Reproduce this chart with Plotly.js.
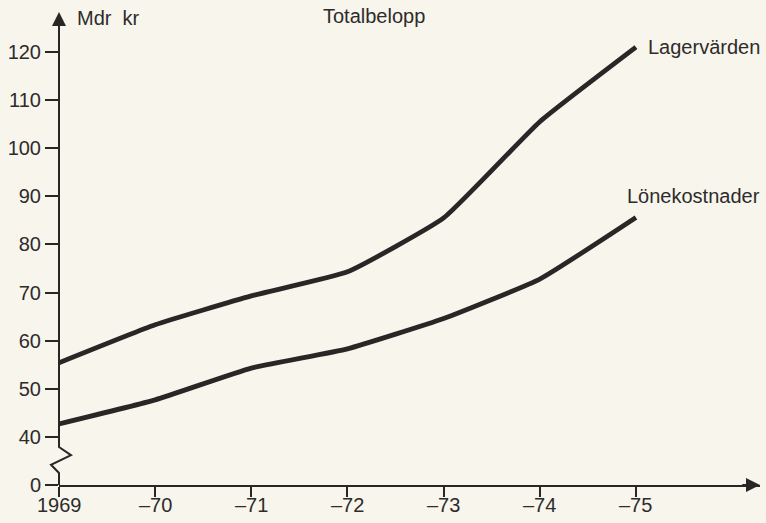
<!DOCTYPE html>
<html>
<head>
<meta charset="utf-8">
<script src="https://cdn.plot.ly/plotly-3.0.1.min.js"></script>
<style>
html,body{margin:0;padding:0;background:#f7f5ec;}
#chart{width:766px;height:523px;}
</style>
</head>
<body>
<div id="chart"></div>
<script>
// Data (Mdr kr)
const years = [1969, 1970, 1971, 1972, 1973, 1974, 1975];
const lagervarden = [55.4, 63.3, 69.3, 74.3, 85.5, 105.5, 121];
const lonekostnader = [42.7, 47.7, 54.3, 58.3, 64.6, 72.8, 85.6];
const xTickVals = [1969, 1970, 1971, 1972, 1973, 1974, 1975];
const xTickText = ['1969', '–70', '–71', '–72', '–73', '–74', '–75'];
// y-axis is broken between 0 and 40: the "0" tick sits one step below 40
const yTickVals = [30, 40, 50, 60, 70, 80, 90, 100, 110, 120];
const yTickText = ['0', '40', '50', '60', '70', '80', '90', '100', '110', '120'];

const W = 766, H = 523;
const M = {l: 59, r: 6, t: 12, b: 38};
const plotW = W - M.l - M.r, plotH = H - M.t - M.b;
const px = x => (x - M.l) / plotW;
const py = y => (H - M.b - y) / plotH;
const ink = '#2b2626';
const txt = '#2e2b2b';
const font = {family: 'Liberation Sans, Arial, Helvetica, sans-serif', size: 20, color: txt};

const yMin = 30, yMax = 128.3;
const xMin = 1969, xMax = 1976.29;

const lineStyle = {color: ink, width: 4.8, shape: 'spline', smoothing: 0.4};
const traces = [
  {x: years, y: lagervarden, mode: 'lines', line: lineStyle, name: 'Lagervärden', hoverinfo: 'skip', cliponaxis: false},
  {x: years, y: lonekostnader, mode: 'lines', line: lineStyle, name: 'Lönekostnader', hoverinfo: 'skip', cliponaxis: false}
];

const dx = p => p / plotW; // pixel offset -> paper

// x tick labels placed just under the tick marks
const xLabelAnns = xTickVals.map((v, i) => ({
  x: v, xref: 'x', y: py(505), yref: 'paper', xanchor: 'center', yanchor: 'middle',
  text: xTickText[i], showarrow: false, font: font
}));

const layout = {
  width: W, height: H,
  margin: M,
  paper_bgcolor: '#f7f5ec',
  plot_bgcolor: '#f7f5ec',
  showlegend: false,
  font: font,
  xaxis: {
    range: [xMin, xMax], showgrid: false, zeroline: false,
    showline: true, linecolor: ink, linewidth: 2,
    tickmode: 'array', tickvals: xTickVals, ticktext: xTickText,
    ticks: 'outside', ticklen: 10, tickwidth: 2, tickcolor: ink,
    showticklabels: false, fixedrange: true
  },
  yaxis: {
    range: [yMin, yMax], showgrid: false, zeroline: false,
    showline: false,
    tickmode: 'array', tickvals: yTickVals, ticktext: yTickText,
    ticks: 'outside', ticklen: 13, tickwidth: 2, tickcolor: ink,
    tickfont: font, fixedrange: true
  },
  shapes: [
    {
      type: 'path', xref: 'paper', yref: 'y',
      path: `M 0,${yMin} L 0,32.5 L ${-dx(8)},34.2 L ${dx(12)},36.2 L 0,37.9 L 0,${yMax - 2}`,
      line: {color: ink, width: 2}
    }
  ],
  annotations: [
    {x: xMin, y: yMax, ax: xMin, ay: yMax - 4, xref: 'x', yref: 'y', axref: 'x', ayref: 'y',
     text: '', showarrow: true, arrowhead: 2, arrowsize: 1.4, arrowwidth: 2, arrowcolor: ink},
    {x: xMax, y: yMin, ax: xMax - 0.2, ay: yMin, xref: 'x', yref: 'y', axref: 'x', ayref: 'y',
     text: '', showarrow: true, arrowhead: 2, arrowsize: 1.4, arrowwidth: 2, arrowcolor: ink},
    {xref: 'paper', yref: 'paper', x: px(75), y: py(18), xanchor: 'left', yanchor: 'middle',
     text: 'Mdr  kr', showarrow: false, font: font},
    {xref: 'paper', yref: 'paper', x: px(374), y: py(16), xanchor: 'center', yanchor: 'middle',
     text: 'Totalbelopp', showarrow: false, font: font},
    {xref: 'paper', yref: 'paper', x: px(646), y: py(47), xanchor: 'left', yanchor: 'middle',
     text: 'Lagervärden', showarrow: false, font: font},
    {xref: 'paper', yref: 'paper', x: px(625), y: py(196), xanchor: 'left', yanchor: 'middle',
     text: 'Lönekostnader', showarrow: false, font: font}
  ].concat(xLabelAnns)
};

Plotly.newPlot('chart', traces, layout, {staticPlot: true, displayModeBar: false});
</script>
</body>
</html>
